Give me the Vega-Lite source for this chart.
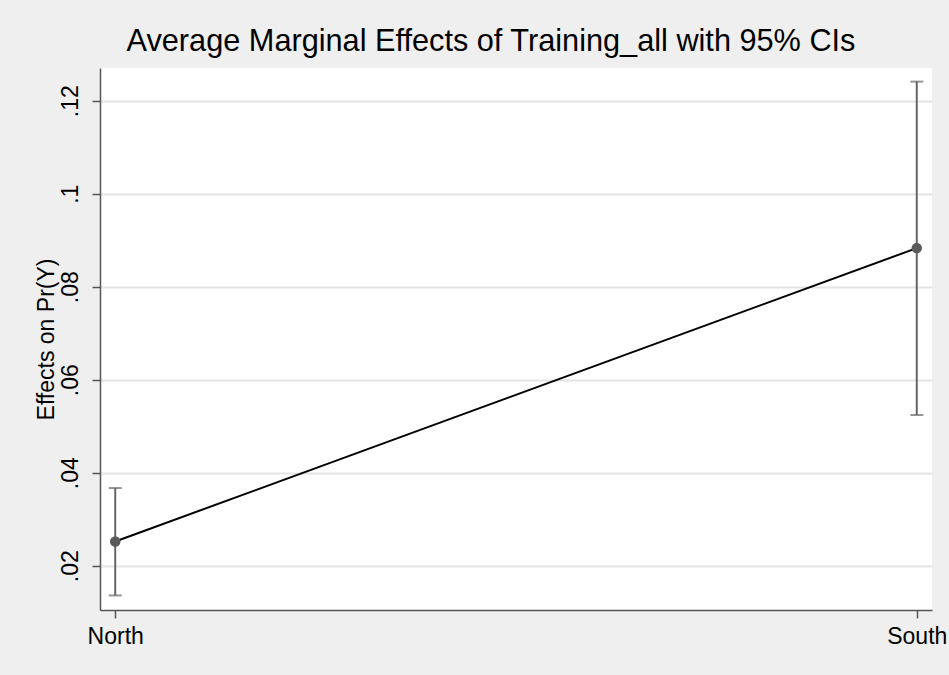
{
  "$schema": "https://vega.github.io/schema/vega-lite/v6.json",
  "width": 832,
  "height": 542,
  "autosize": "none",
  "padding": {"left": 100, "top": 68, "right": 17, "bottom": 65},
  "background": "#efefef",
  "config": {
    "view": {"fill": "white", "stroke": null},
    "font": "Liberation Sans",
    "axisY": {"titleFontSize": 23, "titleFontWeight": "normal", "titleColor": "#000000", "titlePadding": 1}
  },
  "title": {"text": "Average Marginal Effects of Training_all with 95% CIs", "fontSize": 30.7, "fontWeight": "normal", "color": "#000000", "offset": 10, "dx": -25, "anchor": "middle", "font": "Liberation Sans"},
  "data": {"values": [
    {"region": "North", "effect": 0.0252, "lower": 0.0136, "upper": 0.0367},
    {"region": "South", "effect": 0.0883, "lower": 0.0524, "upper": 0.1241}
  ]},
  "encoding": {
    "x": {"field": "region", "type": "ordinal", "scale": {"type": "point", "padding": 0.019},
      "axis": {"title": null, "labelAngle": 0, "labelFontSize": 23, "labelColor": "#000000", "tickSize": 8, "tickColor": "#555555", "tickWidth": 1.5, "domainColor": "#555555", "domainWidth": 1.5, "labelPadding": 7, "grid": false}}
  },
  "layer": [
    {
      "mark": {"type": "line", "color": "#000000", "strokeWidth": 2},
      "encoding": {
        "y": {"field": "effect", "type": "quantitative", "title": "Effects on Pr(Y)", "scale": {"domain": [0.01047, 0.12703], "nice": false, "zero": false},
          "axis": {"titleFontSize": 23, "titlePadding": 1,
            "values": [0.02, 0.04, 0.06, 0.08, 0.1, 0.12],
            "labelExpr": "datum.value == 0.1 ? '.1' : '.' + slice(format(datum.value, '.2f'), 2)",
            "labelAngle": 270, "labelFontSize": 23, "labelColor": "#000000", "labelPadding": 10,
            "tickSize": 8, "tickColor": "#555555", "tickWidth": 1.5, "domainColor": "#555555", "domainWidth": 1.5,
            "grid": true, "gridColor": "#e4e4e4", "gridWidth": 2}}
      }
    },
    {
      "mark": {"type": "rule", "color": "#666666", "strokeWidth": 2},
      "encoding": {"y": {"field": "lower", "type": "quantitative", "title": "Effects on Pr(Y)"}, "y2": {"field": "upper"}}
    },
    {
      "mark": {"type": "tick", "color": "#666666", "size": 13, "thickness": 2},
      "encoding": {"y": {"field": "lower", "type": "quantitative", "title": "Effects on Pr(Y)"}}
    },
    {
      "mark": {"type": "tick", "color": "#666666", "size": 13, "thickness": 2},
      "encoding": {"y": {"field": "upper", "type": "quantitative", "title": "Effects on Pr(Y)"}}
    },
    {
      "mark": {"type": "point", "filled": true, "color": "#5a5a5a", "size": 110, "opacity": 1},
      "encoding": {"y": {"field": "effect", "type": "quantitative", "title": "Effects on Pr(Y)"}}
    }
  ]
}
